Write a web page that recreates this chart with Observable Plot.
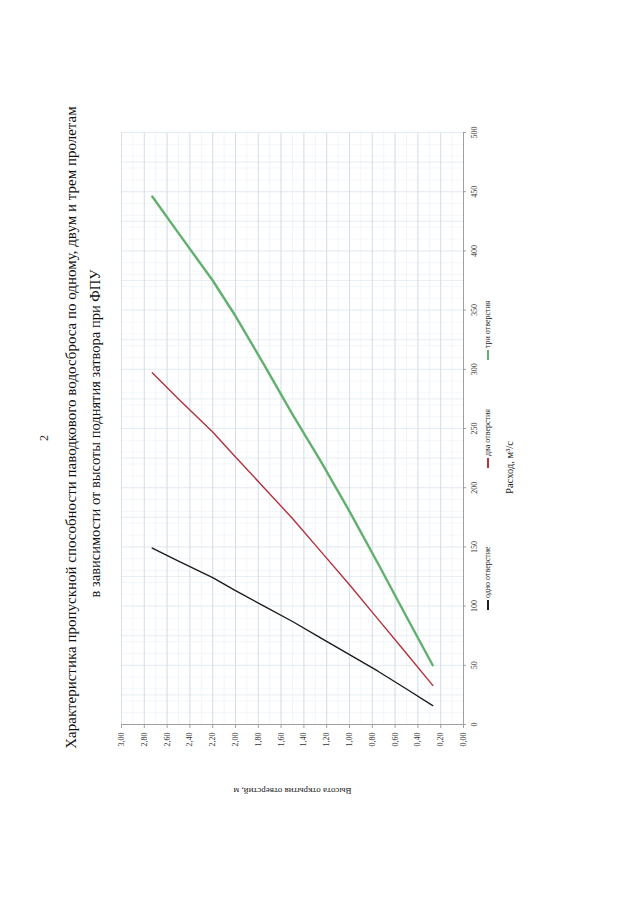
<!DOCTYPE html>
<html><head><meta charset="utf-8">
<script src="https://cdn.jsdelivr.net/npm/d3@7"></script>
<script src="https://cdn.jsdelivr.net/npm/@observablehq/plot@0.6"></script>
<style>
body{margin:0;background:#fff;width:640px;height:903px;overflow:hidden;position:relative;font-family:"Liberation Serif","Times New Roman",serif;}
#page{position:absolute;left:0;top:0;width:903px;height:640px;transform-origin:0 0;transform:translate(0,903px) rotate(-90deg);}
.abs{position:absolute;white-space:nowrap;font-family:"Liberation Serif","Times New Roman",serif;}
.t{font-size:15px;line-height:15px;text-align:center;width:903px;color:#111;}
.leg{font-size:8px;line-height:10px;color:#222;}
.leg i{display:inline-block;width:10px;height:0;border-top:2px solid;vertical-align:middle;margin-right:2px;}
</style></head><body><div id="page"></div>
<script>
// Data: height of gate opening (m) vs discharge (m³/s)
const heights = [0.27, 0.5, 0.75, 1.0, 1.25, 1.5, 1.75, 2.0, 2.2, 2.5, 2.73];
const qOne   = [16, 30, 45, 59, 73, 87, 100, 113, 124, 138, 149];
const qTwo   = [33, 60, 89, 118, 146, 174, 200, 226, 247, 275, 297];
const qThree = [50, 91, 136, 180, 222, 262, 304, 345, 375, 415, 446];
const seriesNames = ["одно отверстие", "два отверстия", "три отверстия"];
const seriesColors = ["#1c1c1c", "#b3323e", "#62b06f"];
const hTicks = [0, 0.2, 0.4, 0.6, 0.8, 1.0, 1.2, 1.4, 1.6, 1.8, 2.0, 2.2, 2.4, 2.6, 2.8, 3.0];
const qTicks = [0, 50, 100, 150, 200, 250, 300, 350, 400, 450, 500];
const titleLines = ["Характеристика пропускной способности паводкового водосброса по одному, двум и трем пролетам",
                    "в зависимости от высоты поднятия затвора при ФПУ"];
const xTitle = "Расход, м³/с";
const yTitle = "Высота открытия отверстий, м";
const pageNumber = "2";

const qMinor = d3.range(0, 501, 10);
const qMid = d3.range(0, 501, 25);
const hMinor = d3.range(0, 31, 1).map(d => d / 10);

const allQ = [qOne, qTwo, qThree];
const data = seriesNames.flatMap((s, k) => heights.map((h, i) => ({s, h, q: allQ[k][i]})));
const fmt = d => d.toFixed(2).replace(".", ",");

const chart = Plot.plot({
  width: 903, height: 640,
  marginLeft: 178, marginRight: 133, marginTop: 121, marginBottom: 177,
  x: {domain: [0, 500]},
  y: {domain: [0, 3]},
  style: {fontFamily: "Liberation Serif, serif", background: "transparent", color: "#333"},
  marks: [
    Plot.gridX(qMinor, {stroke: "#edf1f6", strokeOpacity: 1, strokeWidth: 0.6}),
    Plot.gridY(hMinor, {stroke: "#e8eef4", strokeOpacity: 1, strokeWidth: 0.6}),
    Plot.gridX(qMid, {stroke: "#dde6ef", strokeOpacity: 1, strokeWidth: 0.7}),
    Plot.gridY(hTicks, {stroke: "#d2dde9", strokeOpacity: 1, strokeWidth: 0.9}),
    Plot.ruleX([0], {stroke: "#a0a0a0"}),
    Plot.ruleY([0], {stroke: "#a0a0a0"}),
    Plot.axisX(qTicks, {tickSize: 3, tickPadding: 5, fontSize: 8, label: null, stroke: "#a0a0a0"}),
    Plot.axisY(hTicks, {tickSize: 3, tickPadding: 5, fontSize: 8, label: null, tickFormat: fmt, stroke: "#a0a0a0"}),
    ...seriesNames.map((s, k) => Plot.line(data.filter(d => d.s === s), {
      x: "q", y: "h", stroke: seriesColors[k], strokeWidth: k === 2 ? 2.4 : 1.4
    })),
    Plot.text([yTitle], {frameAnchor: "left", textAnchor: "middle", lineAnchor: "middle", rotate: -90, dx: -66, fontSize: 9, fill: "#222"}),
    Plot.text([xTitle], {frameAnchor: "bottom", textAnchor: "middle", lineAnchor: "middle", dx: -39, dy: 46, fontSize: 10.5, fill: "#222"})
  ]
});
chart.style.position = "absolute";
chart.style.left = "0px";
chart.style.top = "0px";
const page = document.getElementById("page");
page.appendChild(chart);

// title lines
const t1 = document.createElement("div");
t1.className = "abs t"; t1.style.left = "24px"; t1.style.top = "64px"; t1.textContent = titleLines[0];
const t2 = document.createElement("div");
t2.className = "abs t"; t2.style.left = "18px"; t2.style.top = "88px"; t2.style.fontSize = "14.5px"; t2.textContent = titleLines[1];
page.appendChild(t1); page.appendChild(t2);

// page number
const pn = document.createElement("div");
pn.className = "abs"; pn.style.cssText += "left:455px;top:38px;width:20px;text-align:center;font-size:12px;line-height:12px;color:#333;";
pn.textContent = pageNumber;
page.appendChild(pn);

// legend
const legStarts = [293, 435, 543];
seriesNames.forEach((s, k) => {
  const el = document.createElement("div");
  el.className = "abs leg";
  el.style.left = legStarts[k] + "px";
  el.style.top = "483px";
  const i = document.createElement("i");
  i.style.borderColor = seriesColors[k];
  el.appendChild(i);
  el.appendChild(document.createTextNode(s));
  page.appendChild(el);
});
</script>
</body></html>
